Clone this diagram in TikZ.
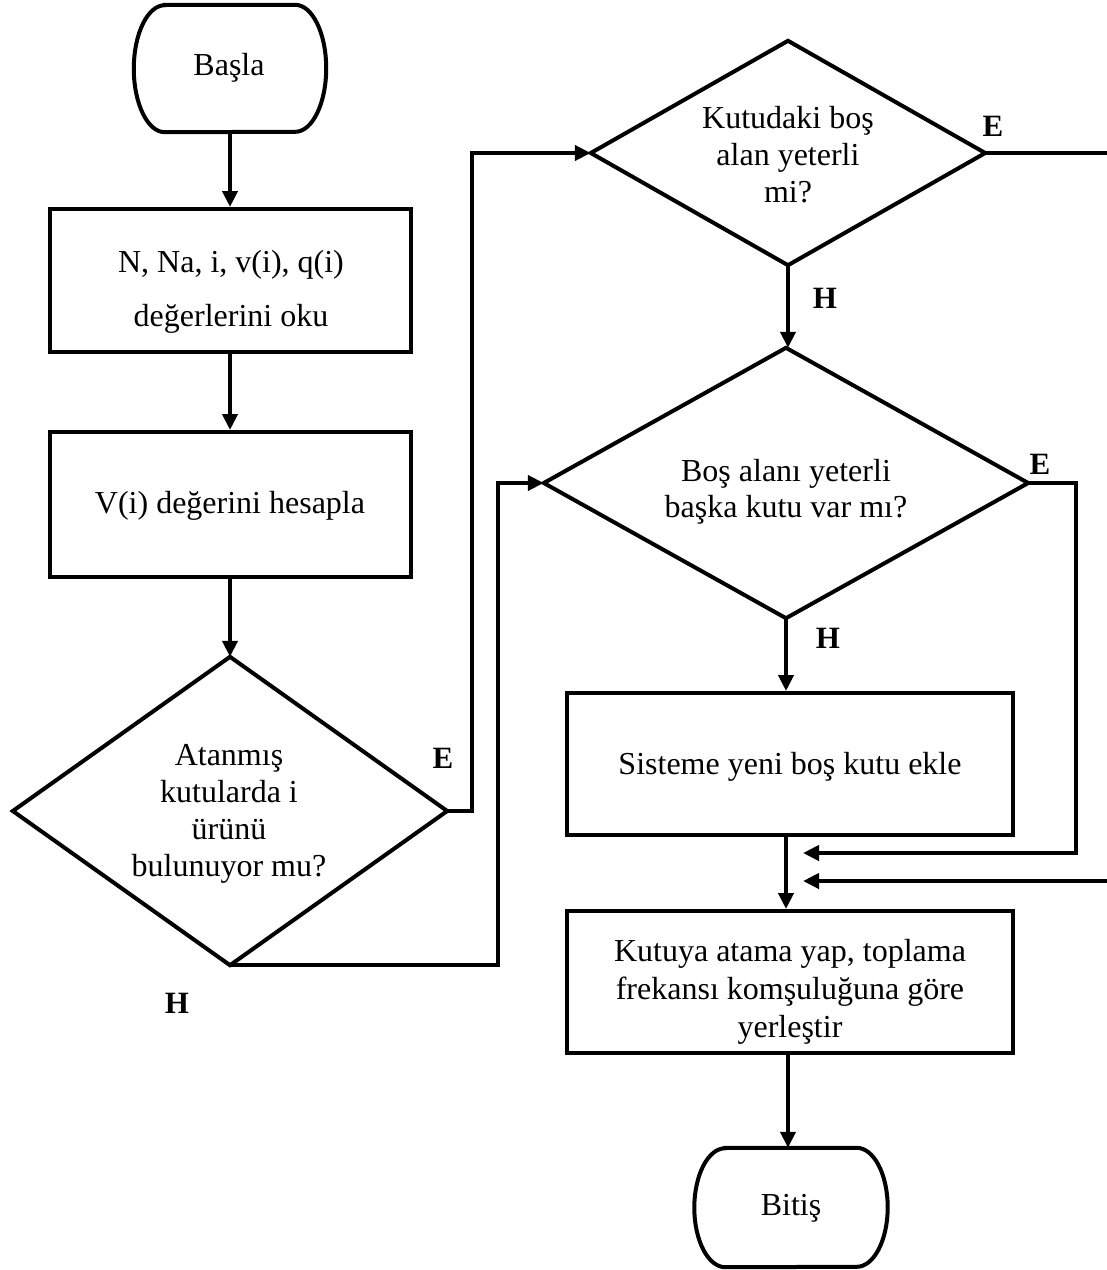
\documentclass[tikz,border=0pt]{standalone}
\usepackage{fontspec}
\setmainfont{Liberation Serif}
\usetikzlibrary{arrows.meta}

% outline of a start/stop terminal: flat top and bottom, elliptic ends
\newcommand\termoutline[3]{%
  \draw[outline] ([xshift=#2]#1.north west) -- ([xshift=-#2]#1.north east)
    arc[start angle=90,end angle=-90,x radius=#2,y radius=#3]
    -- ([xshift=#2]#1.south west)
    arc[start angle=270,end angle=90,x radius=#2,y radius=#3] -- cycle;}
% outline of a decision diamond spanning the node's box
\newcommand\diamondoutline[1]{%
  \draw[outline] (#1.north) -- (#1.east) -- (#1.south) -- (#1.west) -- cycle;}

\begin{document}
\begin{tikzpicture}[x=1pt,y=-1pt,
  outline/.style={line width=4pt, line join=miter},
  flow/.style={line width=4pt, line join=miter, -{Triangle[length=16pt,width=15pt]}},
  frame/.style={draw, line width=4pt, rectangle, inner sep=0pt},
  region/.style={rectangle, inner sep=0pt},
  txt/.style={align=center, inner sep=0pt, font=\fontsize{32}{37}\selectfont},
  tag/.style={inner sep=0pt, font=\fontsize{31}{31}\selectfont\bfseries},
]
\useasboundingbox (0,0) rectangle (1107,1270);
\clip (0,0) rectangle (1107,1270);

% ---- left column ----
\node[region, minimum width=192pt, minimum height=127pt] (start) at (230,68.5) {};
\termoutline{start}{31pt}{63.5pt}
\node[txt] (startT) at (229,68) {Başla};

\node[frame, minimum width=361pt, minimum height=143pt] (read) at (230,280.5) {};
\node[txt, font=\fontsize{32}{54}\selectfont] (readT) at (231,292) {N, Na, i, v(i), q(i)\\değerlerini oku};

\node[frame, minimum width=361pt, minimum height=145pt] (calc) at (230,504.5) {};
\node[txt] (calcT) at (230,506) {V(i) değerini hesapla};

\node[region, minimum width=434pt, minimum height=308pt] (q1) at (230,811) {};
\diamondoutline{q1}
\node[txt] (q1T) at (229,814) {Atanmış\\kutularda i\\ürünü\\bulunuyor mu?};

% ---- right column ----
\node[region, minimum width=394pt, minimum height=224pt] (q2) at (788,153) {};
\diamondoutline{q2}
\node[txt] (q2T) at (788,155) {Kutudaki boş\\alan yeterli\\mi?};

\node[region, minimum width=484pt, minimum height=270pt] (q3) at (786,483) {};
\diamondoutline{q3}
\node[txt, font=\fontsize{32}{36}\selectfont] (q3T) at (786,492) {Boş alanı yeterli\\başka kutu var mı?};

\node[frame, minimum width=446pt, minimum height=142pt] (add) at (790,764) {};
\node[txt] (addT) at (790,767) {Sisteme yeni boş kutu ekle};

\node[frame, minimum width=446pt, minimum height=142pt] (assign) at (790,982) {};
\node[txt, font=\fontsize{32}{38}\selectfont] (assignT) at (790,992) {Kutuya atama yap, toplama\\frekansı komşuluğuna göre\\yerleştir};

\node[region, minimum width=193pt, minimum height=119pt] (stop) at (791,1207.5) {};
\termoutline{stop}{31pt}{59.5pt}
\node[txt] (stopT) at (791,1208) {Bitiş};

% entry points of the two returning branches
\coordinate (join1) at (803,853);
\coordinate (join2) at (803,881);

% ---- connectors ----
\draw[flow] (start.south) -- (start.south |- read.north);
\draw[flow] (read.south) -- (read.south |- calc.north);
\draw[flow] (calc.south) -- (calc.south |- q1.north);
\draw[flow] (q1.east) -- ([xshift=25pt]q1.east) |- (q2.west);
\draw[flow] (q1.south) -| ([xshift=-46pt]q3.west) -- (q3.west);
\draw[flow] (q2.south) -- (q2.south |- q3.north);
\draw[flow] (q3.south) -- (q3.south |- add.north);
\draw[flow] (q3.south |- add.south) -- (q3.south |- assign.north);
\draw[flow] (q2.south |- assign.south) -- (q2.south |- stop.north);
\draw[flow] (q3.east) -- ([xshift=48pt]q3.east) |- (join1);
\draw[flow] (q2.east) -- ([xshift=140pt]q2.east) |- (join2);

% ---- branch labels ----
\node[tag] (e1) at (443,758) {E};
\node[tag] (h1) at (177,1003) {H};
\node[tag] (e2) at (993,126) {E};
\node[tag] (h2) at (825,298) {H};
\node[tag] (e3) at (1040,464) {E};
\node[tag] (h3) at (828,638) {H};
\end{tikzpicture}
\end{document}
